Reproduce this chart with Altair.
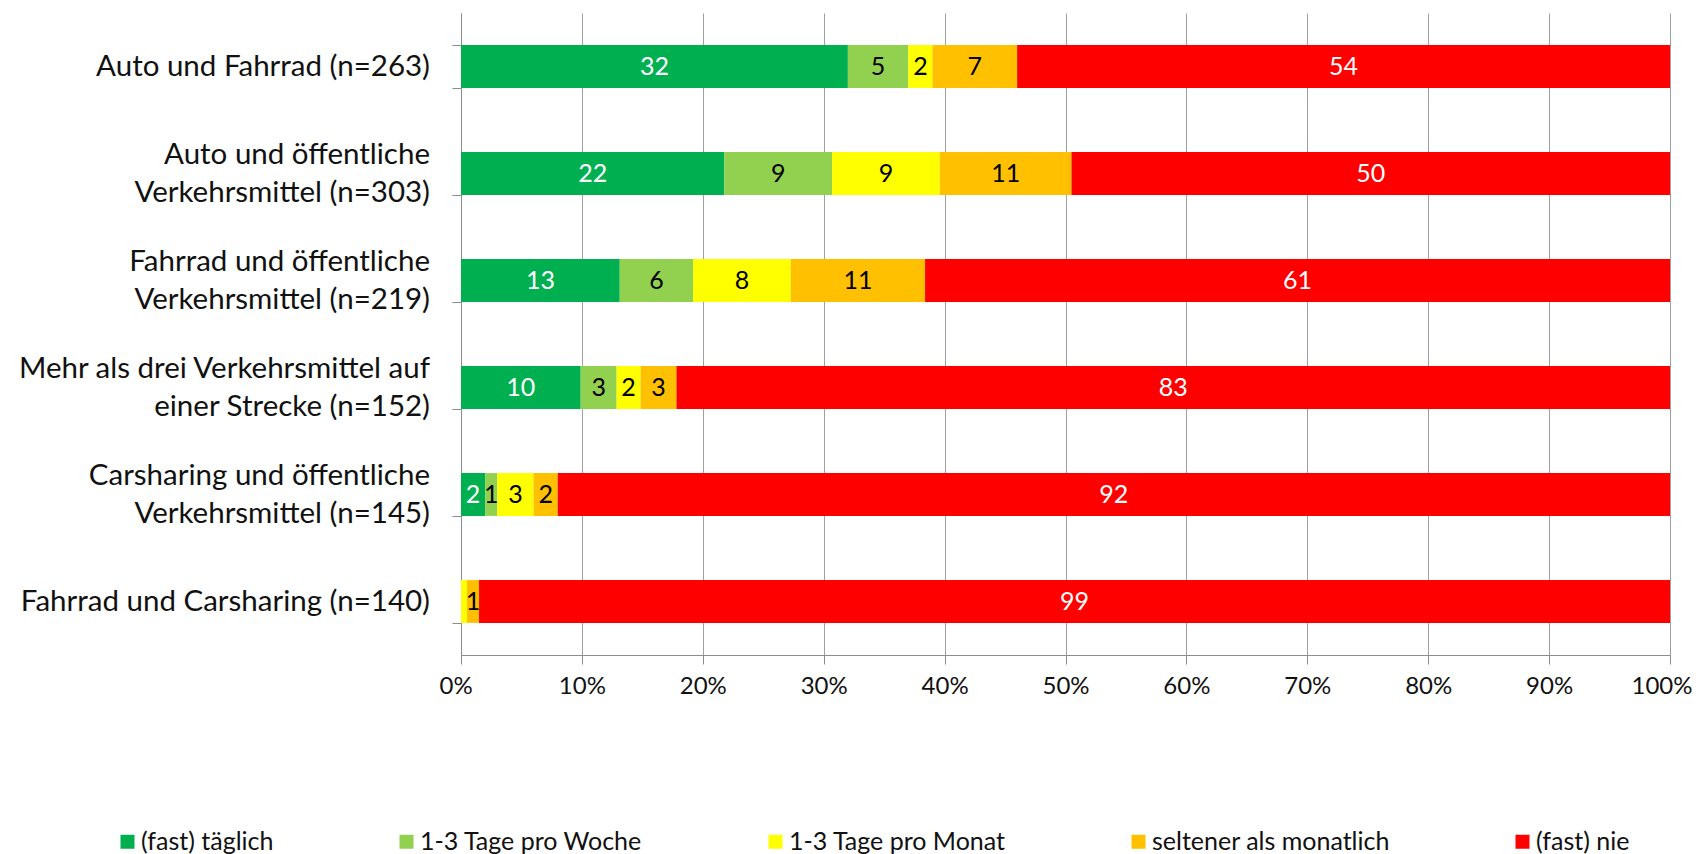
import altair as alt
import pandas as pd

categories = [
    "Auto und Fahrrad (n=263)",
    "Auto und öffentliche\u00a0\u00a0|Verkehrsmittel (n=303)",
    "Fahrrad und öffentliche|Verkehrsmittel (n=219)",
    "Mehr als drei Verkehrsmittel auf|einer Strecke (n=152)",
    "Carsharing und öffentliche|Verkehrsmittel (n=145)",
    "Fahrrad und Carsharing (n=140)",
]
series = ["(fast) täglich", "1-3 Tage pro Woche", "1-3 Tage pro Monat",
          "seltener als monatlich", "(fast) nie"]
taeglich = [32, 22, 13, 10, 2, 0]
woche = [5, 9, 6, 3, 1, 0]
monat = [2, 9, 8, 2, 3, 0.5]
seltener = [7, 11, 11, 3, 2, 1]
nie = [54, 50, 61, 83, 92, 99]
colors = ["#00B050", "#92D050", "#FFFF00", "#FFC000", "#FF0000"]
label_colors = ["#FFFFFF", "#000000", "#000000", "#000000", "#FFFFFF"]

rows = []
for si, vals in enumerate([taeglich, woche, monat, seltener, nie]):
    for ci, cat in enumerate(categories):
        rows.append({"cat": cat, "series": series[si], "value": vals[ci],
                     "order": si, "lc": label_colors[si]})
df = pd.DataFrame(rows)
cat_df = pd.DataFrame({"cat": categories, "two": ["|" in c for c in categories]})

FONT = "Lato"
TXT = "#111111"
ycat = alt.Y(
    "cat:N", sort=categories,
    scale=alt.Scale(paddingInner=0.6, paddingOuter=0.3),
    axis=alt.Axis(title=None, labels=False,
                  tickBand="extent", domainColor="#8C8C8C", tickColor="#8C8C8C",
                  tickSize=9, grid=False),
)

base = alt.Chart(df)

bars = base.mark_bar().encode(
    y=ycat,
    x=alt.X("value:Q", stack="normalize", scale=alt.Scale(domain=[0, 1]),
            axis=alt.Axis(title=None, format="%",
                          values=[i / 10 for i in range(11)],
                          labelFlush=True, labelFlushOffset=22,
                          grid=True, gridColor="#A0A0A0", domainColor="#8C8C8C",
                          tickColor="#8C8C8C", tickSize=9, labelPadding=10,
                          labelFont=FONT, labelFontSize=24, labelColor=TXT)),
    color=alt.Color("series:N", scale=alt.Scale(domain=series, range=colors),
                    legend=alt.Legend(title=None, orient="none", legendX=-346,
                                      legendY=816, direction="horizontal",
                                      columns=5, symbolType="square",
                                      symbolSize=196, symbolStrokeWidth=0,
                                      labelFont=FONT, labelFontSize=25,
                                      labelColor=TXT, labelOffset=1,
                                      columnPadding=120, padding=0,
                                      labelLimit=600)),
    order=alt.Order("order:Q"),
)

labels = base.transform_joinaggregate(
    total="sum(value)", groupby=["cat"]
).transform_window(
    cum="sum(value)", groupby=["cat"], sort=[alt.SortField("order")], frame=[None, 0]
).transform_calculate(
    mid="(datum.cum - datum.value / 2) / datum.total"
).transform_filter(
    "datum.value >= 1"
).mark_text(font=FONT, fontSize=25, baseline="middle", align="center").encode(
    y=alt.Y("cat:N", sort=categories),
    x=alt.X("mid:Q"),
    text=alt.Text("value:Q", format="d"),
    color=alt.Color("lc:N", scale=None),
)

cat_base = alt.Chart(cat_df)
cat_one = cat_base.transform_filter("!datum.two").mark_text(
    font=FONT, fontSize=29.5, align="right", baseline="middle", color=TXT
).encode(y=alt.Y("cat:N", sort=categories), x=alt.value(-31), text="cat:N")
cat_two = cat_base.transform_filter("datum.two").mark_text(
    font=FONT, fontSize=29.5, align="right", baseline="line-bottom", color=TXT,
    lineBreak="|", lineHeight=38
).encode(y=alt.Y("cat:N", sort=categories), x=alt.value(-31), text="cat:N")

chart = alt.layer(bars, labels, cat_one, cat_two).properties(
    width=1209, height=642,
    autosize=alt.AutoSizeParams(type="none"),
    padding={"left": 453, "top": 5, "right": 24, "bottom": 199},
).configure_view(stroke=None)

chart.save("out.html", embed_options={"renderer": "svg", "actions": False})
